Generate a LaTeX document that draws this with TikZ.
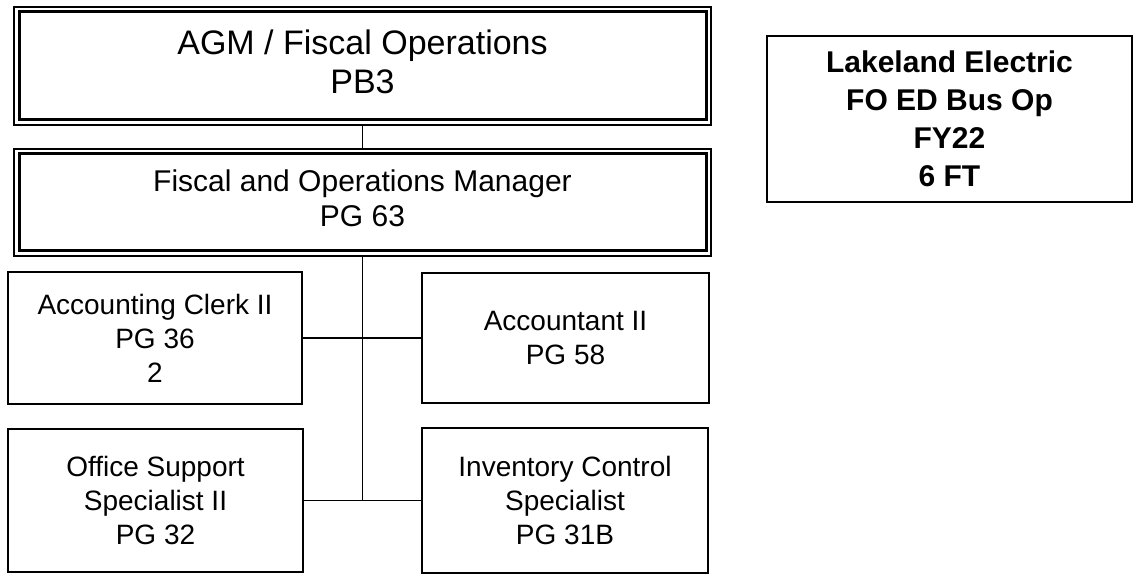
\documentclass[tikz,border=0pt]{standalone}
\usepackage{fontspec}
\setmainfont{Liberation Sans}
\begin{document}
\begin{tikzpicture}[x=1pt,y=-1pt,
  box/.style={draw=black,line width=2pt,rectangle,align=center,inner sep=0pt,
    font=\fontsize{28}{34}\selectfont},
  outerbox/.style={draw=black,line width=2pt,rectangle,align=center,inner sep=0pt},
  innerline/.style={draw=black,line width=3pt},
  conn/.style={draw=black,line width=1.5pt}]
\useasboundingbox (0,0) rectangle (1135,577);
% top double boxes
\node[outerbox,minimum width=697pt,minimum height=118pt,text depth=9pt,
  font=\fontsize{34}{39}\selectfont] (agm) at (362.5,66) {AGM / Fiscal Operations\\PB3};
\draw[innerline] ([shift={(6pt,-6pt)}]agm.north west) rectangle ([shift={(-6pt,6pt)}]agm.south east);
\node[outerbox,minimum width=697pt,minimum height=107pt,text depth=9pt,
  font=\fontsize{30}{35}\selectfont] (mgr) at (362.5,202.5) {Fiscal and Operations Manager\\PG 63};
\draw[innerline] ([shift={(6pt,-6pt)}]mgr.north west) rectangle ([shift={(-6pt,6pt)}]mgr.south east);
% subordinate boxes
\node[box,minimum width=294pt,minimum height=132pt] (clerk) at (155,338) {Accounting Clerk II\\PG 36\\2};
\node[box,minimum width=287pt,minimum height=130pt] (acct) at (565.5,338) {Accountant II\\PG 58};
\node[box,minimum width=295pt,minimum height=143pt] (office) at (155.5,500.5) {Office Support\\Specialist II\\PG 32};
\node[box,minimum width=286pt,minimum height=145pt] (inv) at (565,500.5) {Inventory Control\\Specialist\\PG 31B};
% info box
\node[box,minimum width=365pt,minimum height=166pt,
  font=\bfseries\fontsize{30}{38}\selectfont] (lake) at (949.5,119) {Lakeland Electric\\FO ED Bus Op\\FY22\\6 FT};
% connectors
\coordinate (trunk) at (362.5,500);
\draw[conn] (agm.south) -- (mgr.north);
\draw[conn] (mgr.south) -- (trunk);
\draw[conn] (clerk.east) -- (acct.west);
\draw[conn] (office.east) -- (inv.west);
\end{tikzpicture}
\end{document}
